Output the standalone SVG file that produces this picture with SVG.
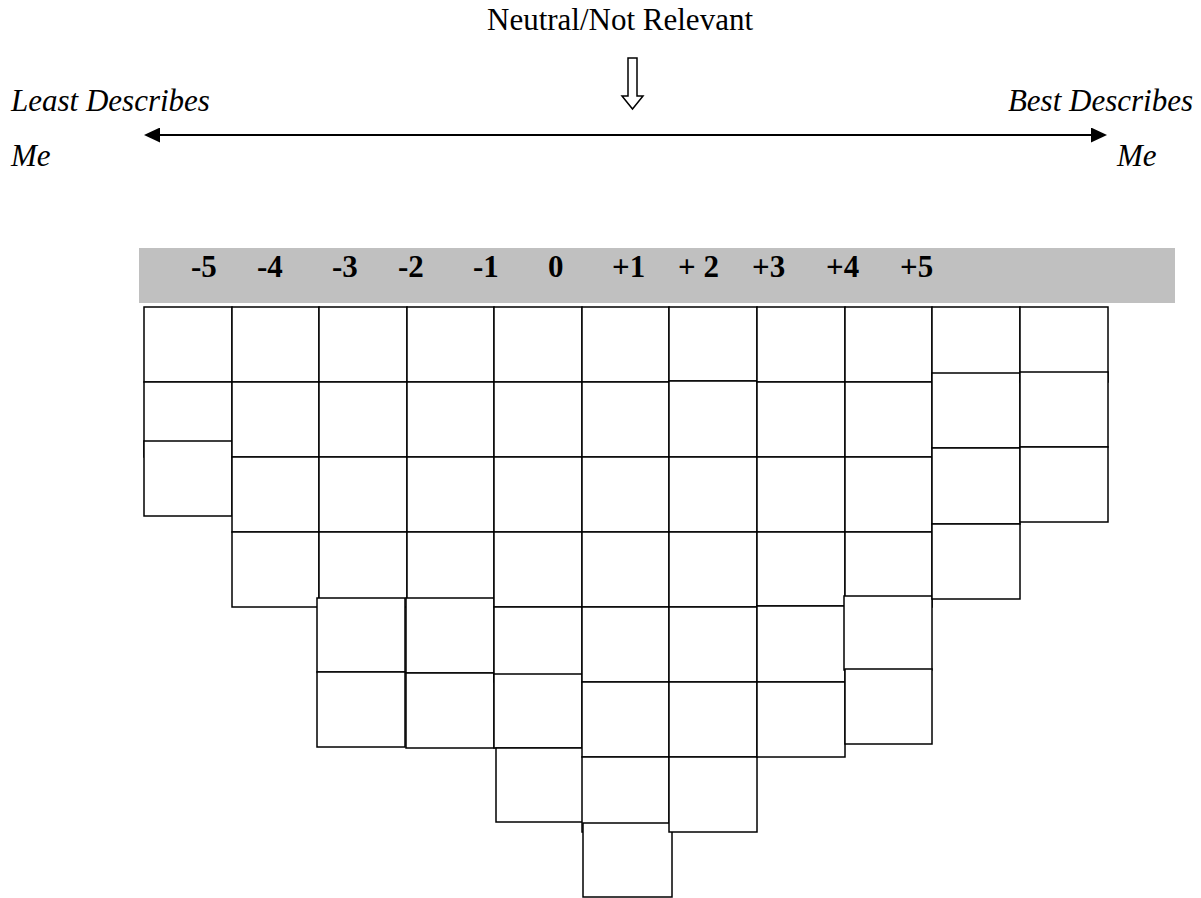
<svg xmlns="http://www.w3.org/2000/svg" width="1201" height="898" viewBox="0 0 1201 898">
<style>
.cell{fill:#fff;stroke:#000;stroke-width:1.5}
.it{font-family:"Liberation Serif","Times New Roman",serif;font-style:italic;font-size:31px;fill:#000}
.rg{font-family:"Liberation Serif","Times New Roman",serif;font-size:31px;fill:#000}
.num{font-family:"Liberation Serif","Times New Roman",serif;font-weight:bold;font-size:31px;fill:#000}
</style>
<defs>
<marker id="ah" viewBox="0 0 16 15" refX="0" refY="7.5" markerWidth="16" markerHeight="15" markerUnits="userSpaceOnUse" orient="auto-start-reverse">
<path d="M0,0 L16,7.5 L0,15 z" fill="#000"/>
</marker>
</defs>
<rect width="1201" height="898" fill="#fff"/>
<g id="labels">
<text class="rg" x="620" y="30" text-anchor="middle">Neutral/Not Relevant</text>
<text class="it" x="11" y="111">Least Describes</text>
<text class="it" x="11" y="166">Me</text>
<text class="it" x="1193" y="111" text-anchor="end">Best Describes</text>
<text class="it" x="1117" y="166">Me</text>
</g>
<g id="connectors">
<line x1="160" y1="135" x2="1091" y2="135" stroke="#000" stroke-width="2" marker-start="url(#ah)" marker-end="url(#ah)"/>
<polygon points="628,58 637,58 637,96 643,96 632.5,109 622,96 628,96" fill="#fff" stroke="#000" stroke-width="1.5"/>
</g>
<g id="header">
<rect x="139" y="248" width="1036" height="55" fill="#c0c0c0"/>
<text class="num" x="191" y="277">-5</text>
<text class="num" x="257" y="277">-4</text>
<text class="num" x="332" y="277">-3</text>
<text class="num" x="398" y="277">-2</text>
<text class="num" x="473" y="277">-1</text>
<text class="num" x="548" y="277">0</text>
<text class="num" x="612" y="277">+1</text>
<text class="num" x="678" y="277">+ 2</text>
<text class="num" x="752" y="277">+3</text>
<text class="num" x="826" y="277">+4</text>
<text class="num" x="900" y="277">+5</text>
</g>
<g id="col-m5">
<g id="m5-1"><rect class="cell" x="144" y="307" width="88" height="75"/></g>
<g id="m5-2"><rect class="cell" x="144" y="382" width="88" height="75"/></g>
<g id="m5-3"><rect class="cell" x="144" y="441" width="88" height="75"/></g>
</g>
<g id="col-m4">
<g id="m4-1"><rect class="cell" x="232" y="307" width="87" height="75"/></g>
<g id="m4-2"><rect class="cell" x="232" y="382" width="87" height="75"/></g>
<g id="m4-3"><rect class="cell" x="232" y="457" width="87" height="75"/></g>
<g id="m4-4"><rect class="cell" x="232" y="532" width="87" height="75"/></g>
</g>
<g id="col-m3">
<g id="m3-1"><rect class="cell" x="319" y="307" width="88" height="75"/></g>
<g id="m3-2"><rect class="cell" x="319" y="382" width="88" height="75"/></g>
<g id="m3-3"><rect class="cell" x="319" y="457" width="88" height="75"/></g>
<g id="m3-4"><rect class="cell" x="319" y="532" width="88" height="75"/></g>
<g id="m3-5"><rect class="cell" x="317" y="598" width="88" height="74"/></g>
<g id="m3-6"><rect class="cell" x="317" y="672" width="88" height="75"/></g>
</g>
<g id="col-m2">
<g id="m2-1"><rect class="cell" x="407" y="307" width="87" height="75"/></g>
<g id="m2-2"><rect class="cell" x="407" y="382" width="87" height="75"/></g>
<g id="m2-3"><rect class="cell" x="407" y="457" width="87" height="75"/></g>
<g id="m2-4"><rect class="cell" x="407" y="532" width="87" height="75"/></g>
<g id="m2-5"><rect class="cell" x="406" y="598" width="88" height="75"/></g>
<g id="m2-6"><rect class="cell" x="406" y="673" width="88" height="75"/></g>
</g>
<g id="col-m1">
<g id="m1-1"><rect class="cell" x="494" y="307" width="88" height="75"/></g>
<g id="m1-2"><rect class="cell" x="494" y="382" width="88" height="75"/></g>
<g id="m1-3"><rect class="cell" x="494" y="457" width="88" height="75"/></g>
<g id="m1-4"><rect class="cell" x="494" y="532" width="88" height="75"/></g>
<g id="m1-5"><rect class="cell" x="494" y="607" width="88" height="75"/></g>
<g id="m1-6"><rect class="cell" x="494" y="674" width="88" height="74"/></g>
<g id="m1-7"><rect class="cell" x="496" y="748" width="87" height="74"/></g>
</g>
<g id="col-0">
<g id="z-1"><rect class="cell" x="582" y="307" width="87" height="75"/></g>
<g id="z-2"><rect class="cell" x="582" y="382" width="87" height="75"/></g>
<g id="z-3"><rect class="cell" x="582" y="457" width="87" height="75"/></g>
<g id="z-4"><rect class="cell" x="582" y="532" width="87" height="75"/></g>
<g id="z-5"><rect class="cell" x="582" y="607" width="87" height="75"/></g>
<g id="z-6"><rect class="cell" x="582" y="682" width="87" height="75"/></g>
<g id="z-7"><rect class="cell" x="582" y="757" width="87" height="75"/></g>
<g id="z-8"><rect class="cell" x="583" y="823" width="89" height="74"/></g>
</g>
<g id="col-p1">
<g id="p1-1"><rect class="cell" x="669" y="307" width="88" height="74"/></g>
<g id="p1-2"><rect class="cell" x="669" y="381" width="88" height="76"/></g>
<g id="p1-3"><rect class="cell" x="669" y="457" width="88" height="75"/></g>
<g id="p1-4"><rect class="cell" x="669" y="532" width="88" height="75"/></g>
<g id="p1-5"><rect class="cell" x="669" y="607" width="88" height="75"/></g>
<g id="p1-6"><rect class="cell" x="669" y="682" width="88" height="75"/></g>
<g id="p1-7"><rect class="cell" x="669" y="757" width="88" height="75"/></g>
</g>
<g id="col-p2">
<g id="p2-1"><rect class="cell" x="757" y="307" width="88" height="75"/></g>
<g id="p2-2"><rect class="cell" x="757" y="382" width="88" height="75"/></g>
<g id="p2-3"><rect class="cell" x="757" y="457" width="88" height="75"/></g>
<g id="p2-4"><rect class="cell" x="757" y="532" width="88" height="74"/></g>
<g id="p2-5"><rect class="cell" x="757" y="606" width="88" height="76"/></g>
<g id="p2-6"><rect class="cell" x="757" y="682" width="88" height="75"/></g>
</g>
<g id="col-p3">
<g id="p3-1"><rect class="cell" x="845" y="307" width="87" height="75"/></g>
<g id="p3-2"><rect class="cell" x="845" y="382" width="87" height="75"/></g>
<g id="p3-3"><rect class="cell" x="845" y="457" width="87" height="75"/></g>
<g id="p3-4"><rect class="cell" x="845" y="532" width="87" height="75"/></g>
<g id="p3-5"><rect class="cell" x="844" y="596" width="88" height="74"/></g>
<g id="p3-6"><rect class="cell" x="845" y="669" width="87" height="75"/></g>
</g>
<g id="col-p4">
<g id="p4-1"><rect class="cell" x="932" y="307" width="88" height="75"/></g>
<g id="p4-2"><rect class="cell" x="932" y="373" width="88" height="75"/></g>
<g id="p4-3"><rect class="cell" x="932" y="448" width="88" height="76"/></g>
<g id="p4-4"><rect class="cell" x="932" y="524" width="88" height="75"/></g>
</g>
<g id="col-p5">
<g id="p5-1"><rect class="cell" x="1020" y="307" width="88" height="75"/></g>
<g id="p5-2"><rect class="cell" x="1020" y="372" width="88" height="75"/></g>
<g id="p5-3"><rect class="cell" x="1020" y="447" width="88" height="75"/></g>
</g>
</svg>
